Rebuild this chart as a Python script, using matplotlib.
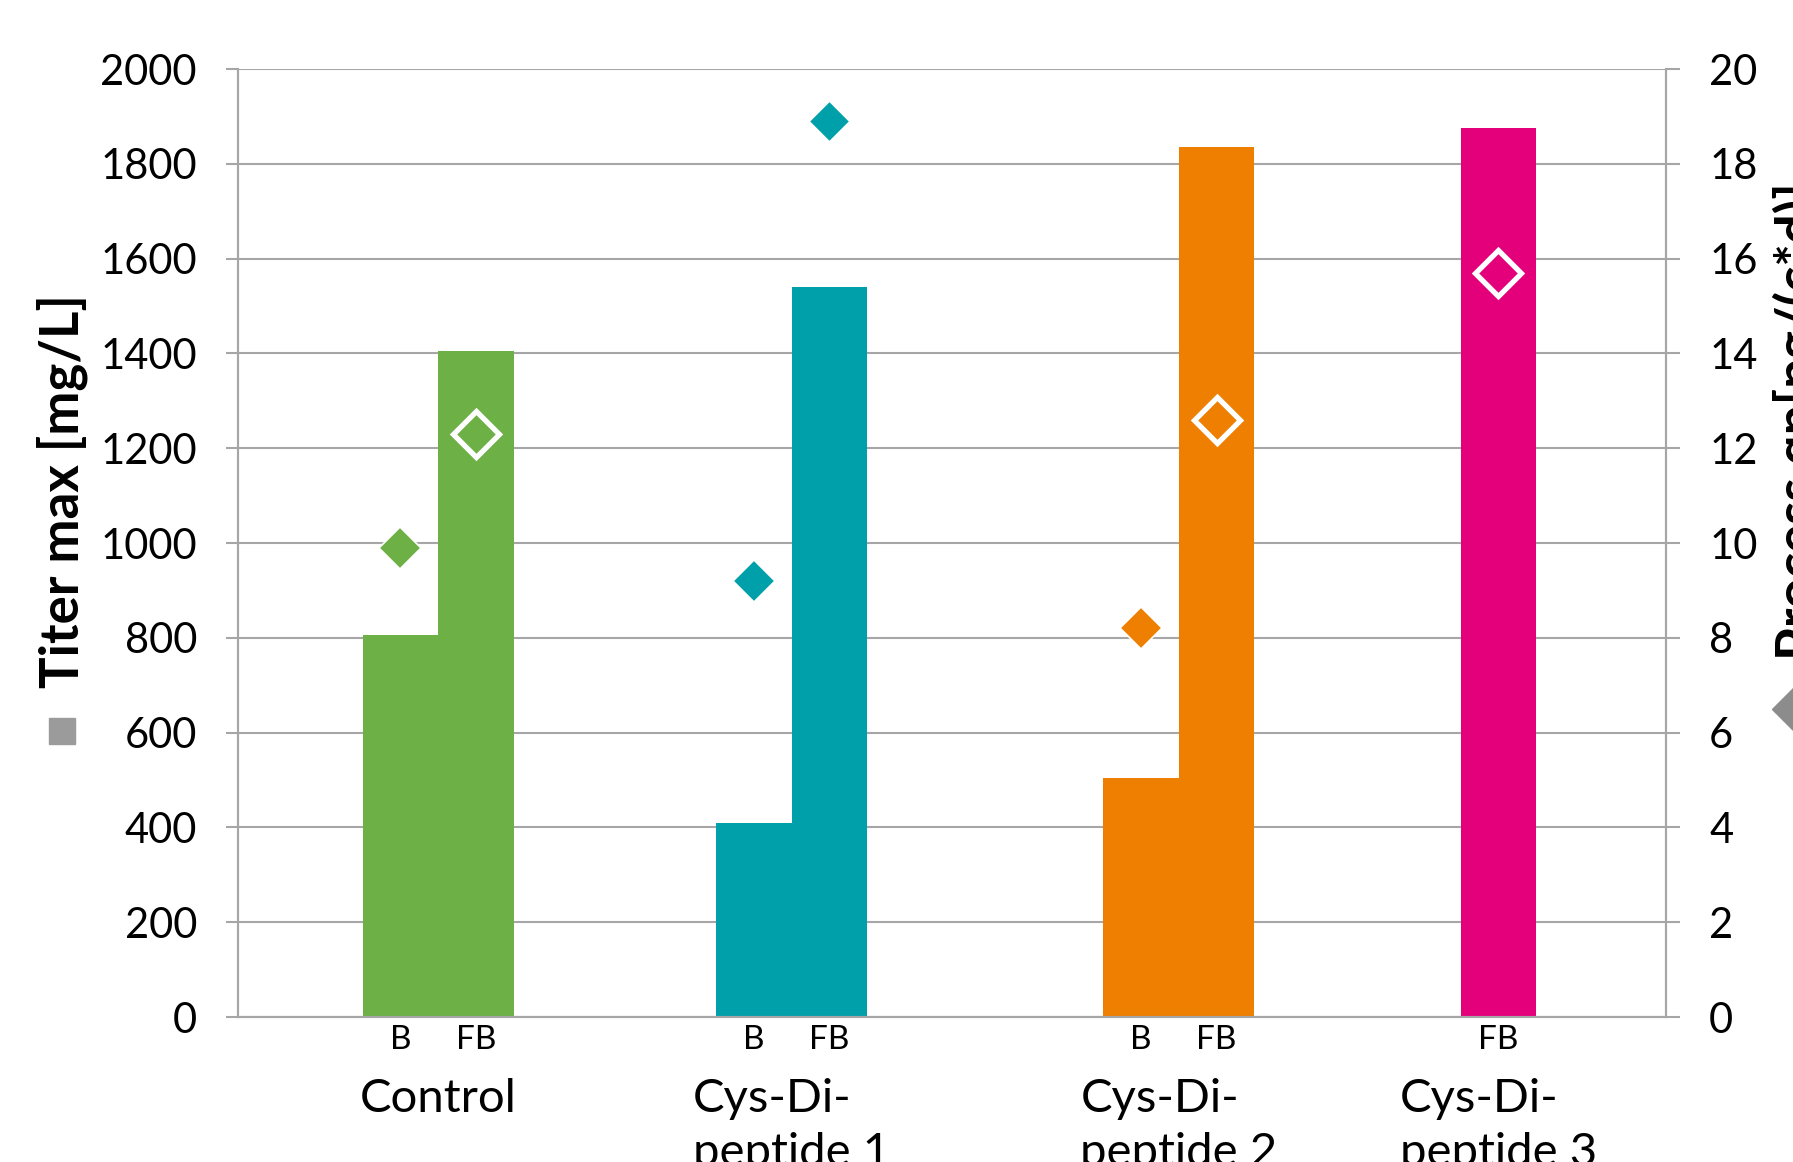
import matplotlib
matplotlib.use("Agg")
import matplotlib.pyplot as plt
import matplotlib.transforms as mtransforms
from matplotlib.lines import Line2D

plt.rcParams['font.family'] = ['Lato', 'DejaVu Sans']

# titer and specific productivity, batch (B) and fed-batch (FB)
categories = ['Control', 'Cys-Di-\npeptide 1', 'Cys-Di-\npeptide 2', 'Cys-Di-\npeptide 3']
titer_b = [805, 410, 505, None]
titer_fb = [1405, 1540, 1835, 1875]
qp_b = [9.9, 9.2, 8.2, None]
qp_fb = [12.3, 18.9, 12.6, 15.7]
colors = ['#6db045', '#00a0aa', '#ee7f00', '#e4007b']

# layout of the category axis (one unit = one bar width)
group_x = [2.65, 7.33, 12.46, 16.69]
x_max = 18.91

grey = '#a6a6a6'

fig = plt.figure(figsize=(17.93, 11.62), dpi=100)
ax = fig.add_axes([0.13274, 0.12478, 0.79643, 0.81583])
ax2 = ax.twinx()

tick_pos = []
tick_lab = []
for i, cat in enumerate(categories):
    if titer_b[i] is None:
        xb = None
        xf = group_x[i]
    else:
        xb = group_x[i] - 0.5
        xf = group_x[i] + 0.5
    if xb is not None:
        ax.bar(xb, titer_b[i], width=1.0, color=colors[i], zorder=2)
        ax2.plot(xb, qp_b[i], marker='D', ms=21, color=colors[i],
                 markeredgecolor='white', markeredgewidth=1.2, ls='none')
        tick_pos.append(xb)
        tick_lab.append('B')
    ax.bar(xf, titer_fb[i], width=1.0, color=colors[i], zorder=2)
    ax2.plot(xf, qp_fb[i], marker='D', ms=23, color=colors[i],
             markeredgecolor='white', markeredgewidth=3.8, ls='none',
             solid_joinstyle='round')
    tick_pos.append(xf)
    tick_lab.append('FB')

ax.set_xlim(0, x_max)
ax.set_ylim(0, 2000)
ax.set_yticks(range(0, 2001, 200))
ax.set_xticks(tick_pos)
ax.set_xticklabels(tick_lab, fontsize=24)
ax.tick_params(axis='x', length=0, pad=6)
ax.tick_params(axis='y', direction='out', length=8.6, width=1.5, color=grey,
               labelsize=30, pad=21)
ax.yaxis.grid(True, color=grey, lw=1.5)
ax.set_axisbelow(True)

ax2.set_ylim(0, 20)
ax2.set_yticks(range(0, 21, 2))
ax2.tick_params(axis='y', direction='out', length=10, width=1.5, color=grey,
                labelsize=30, pad=21)

for a in (ax, ax2):
    a.spines['top'].set_visible(False)
    for s in ('left', 'right', 'bottom'):
        a.spines[s].set_color(grey)
        a.spines[s].set_linewidth(1.5)

# category names under the B/FB labels
trans = mtransforms.blended_transform_factory(ax.transData, fig.transFigure)
for i, cat in enumerate(categories):
    ax.text(group_x[i], 1 - 1078 / 1162, cat, transform=trans, fontsize=34,
            ha='center', va='top', multialignment='left', linespacing=1.35)

# axis titles with their legend keys
fig.text(62 / 1793, 1 - 688 / 1162, 'Titer max [mg/L]', rotation=90,
         ha='center', va='bottom', fontsize=38, fontweight='bold')
fig.add_artist(Line2D([62 / 1793], [1 - 731 / 1162], marker='s', ms=18.7,
                      color='#9b9b9b', ls='none', transform=fig.transFigure))
fig.text(1772 / 1793, 1 - 660 / 1162, 'Process qp[pg/(c*d)]', rotation=90,
         ha='left', va='bottom', fontsize=38, fontweight='bold')
fig.add_artist(Line2D([1795 / 1793], [1 - 709 / 1162], marker='D', ms=23.4,
                      color='#8c8c8c', ls='none', transform=fig.transFigure,
                      clip_on=False))

fig.savefig('out.png', dpi=100)
